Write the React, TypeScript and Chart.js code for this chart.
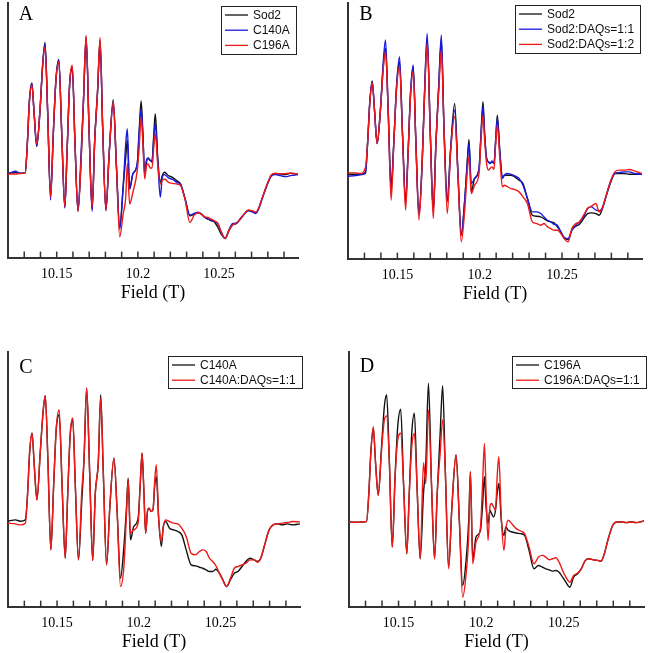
import React, { useEffect, useRef } from 'react';
import { Chart, registerables } from 'chart.js';

Chart.register(...registerables);

// Magnetic field (T)
const fieldT = [
  10.1200, 10.1245, 10.1276, 10.1306, 10.1320, 10.1332, 10.1347, 10.1361, 10.1377, 10.1397,
  10.1414, 10.1428, 10.1444, 10.1462, 10.1479, 10.1495, 10.1513, 10.1531, 10.1550, 10.1564,
  10.1580, 10.1596, 10.1612, 10.1631, 10.1651, 10.1665, 10.1681, 10.1700, 10.1718, 10.1734,
  10.1752, 10.1767, 10.1783, 10.1803, 10.1823, 10.1848, 10.1868, 10.1888, 10.1909, 10.1925,
  10.1935, 10.1949, 10.1969, 10.1996, 10.2008, 10.2020, 10.2030, 10.2042, 10.2053, 10.2063,
  10.2075, 10.2087, 10.2097, 10.2107, 10.2122, 10.2138, 10.2150, 10.2164, 10.2188, 10.2213,
  10.2239, 10.2263, 10.2290, 10.2320, 10.2347, 10.2371, 10.2391, 10.2412, 10.2432, 10.2452,
  10.2472, 10.2493, 10.2513, 10.2537, 10.2560, 10.2584, 10.2606, 10.2631, 10.2655, 10.2679,
  10.2706, 10.2726, 10.2746, 10.2767, 10.2797, 10.2821, 10.2848, 10.2878, 10.2909, 10.2939,
  10.2986,
];

// Panel A (a.u.)
const sod2A = [
  0, 2, 0, 2, 98, 218, 270, 178, 80, 188,
  328, 391, 188, -67, 118, 278, 340, 118, -102, 68,
  268, 313, 98, -112, 48, 218, 408, 118, -107, 98,
  248, 398, 138, -112, 58, 220, 18, -162, -42, 48,
  100, -47, -2, 28, 128, 216, 128, -7, 33, 46,
  38, 38, 108, 178, 48, -27, -7, 3, -7, -12,
  -22, -32, -75, -127, -122, -118, -122, -132, -137, -142,
  -146, -162, -182, -195, -172, -154, -150, -137, -122, -110,
  -114, -118, -102, -72, -32, -7, -2, -2, -4, 0,
  -2,
];
const c140aA = [
  -2, 6, 0, 2, 98, 218, 268, 178, 83, 188,
  328, 388, 188, -80, 118, 278, 338, 118, -104, 68,
  268, 318, 98, -112, 70, 218, 403, 118, -114, 98,
  248, 393, 138, -107, 58, 208, 18, -167, -42, 88,
  133, -47, -2, 28, 120, 193, 118, 3, 40, 45,
  40, 33, 98, 150, 38, -72, -12, -4, -14, -18,
  -27, -34, -75, -125, -120, -116, -122, -132, -137, -140,
  -144, -152, -175, -195, -170, -150, -150, -135, -122, -112,
  -116, -120, -104, -74, -34, -9, -4, -7, -10, -7,
  -4,
];
const c196aA = [
  -2, -2, -1, 2, 95, 215, 263, 178, 88, 188,
  325, 378, 188, -72, 118, 275, 333, 118, -100, 68,
  272, 323, 98, -114, 48, 222, 413, 118, -102, 98,
  252, 406, 138, -110, 58, 213, 18, -190, -122, -72,
  30, -92, -57, 8, 78, 168, 98, -17, 23, 28,
  16, 16, 73, 118, 28, -32, -22, -17, -27, -30,
  -32, -37, -78, -147, -125, -118, -122, -130, -132, -137,
  -142, -150, -175, -195, -172, -154, -148, -137, -122, -110,
  -112, -116, -102, -72, -32, -5, 0, -2, -1, 0,
  -2,
];

// Panel B (a.u.)
const sod2B = [
  0, 0, 0, 5, 102, 212, 279, 192, 92, 192,
  322, 377, 192, -33, 102, 262, 337, 122, -78, 52,
  242, 322, 102, -118, 42, 242, 407, 122, -108, 92,
  272, 402, 142, -78, 72, 212, 2, -178, -78, 42,
  104, -53, -13, 17, 122, 217, 122, 47, 37, 32,
  37, 32, 102, 177, 72, -12, -3, -3, -3, -8,
  -18, -28, -73, -123, -126, -128, -133, -140, -143, -146,
  -158, -173, -190, -196, -168, -156, -150, -133, -118, -116,
  -118, -123, -103, -68, -23, 2, 2, 2, 0, 0,
  0,
];
const sod2Daq11B = [
  -6, -4, -2, 2, 102, 215, 279, 192, 92, 195,
  335, 402, 195, -53, 102, 265, 352, 122, -88, 52,
  245, 327, 102, -123, 42, 245, 422, 122, -113, 92,
  275, 417, 142, -83, 72, 192, 2, -183, -78, 35,
  92, -28, -13, 17, 118, 202, 118, 47, 37, 32,
  40, 32, 100, 167, 68, -12, -3, 2, 0, -5,
  -13, -33, -73, -113, -113, -118, -128, -138, -143, -150,
  -153, -173, -190, -193, -168, -152, -143, -128, -103, -98,
  -108, -110, -100, -66, -20, 2, 5, 7, 7, 2,
  0,
];
const sod2Daq12B = [
  4, 4, 2, 20, 100, 210, 274, 192, 92, 190,
  315, 367, 188, -78, 100, 255, 322, 118, -108, 48,
  235, 307, 98, -138, 38, 232, 392, 118, -133, 88,
  255, 372, 135, -118, 62, 172, -5, -203, -108, 10,
  52, -58, -33, 2, 102, 177, 102, 32, 12, 17,
  22, 14, 90, 147, 50, -38, -33, -36, -43, -46,
  -53, -68, -88, -143, -148, -153, -148, -158, -163, -168,
  -168, -178, -193, -203, -163, -148, -143, -123, -103, -96,
  -88, -113, -100, -66, -18, 7, 12, 12, 14, 10,
  2,
];

// Panel C (a.u.)
const c140aC = [
  2, 6, 2, 6, 86, 206, 266, 166, 66, 206,
  326, 378, 186, -84, 106, 276, 321, 106, -109, 66,
  256, 306, 106, -114, 60, 186, 401, 140, -116, 86,
  176, 381, 146, -129, 46, 191, 26, -169, -74, 46,
  131, -54, -14, 11, 106, 206, 106, -34, 31, 41,
  31, 36, 106, 136, 6, -74, -14, 1, -19, -24,
  -29, -39, -84, -129, -132, -136, -139, -144, -149, -149,
  -142, -154, -172, -194, -174, -154, -149, -134, -119, -109,
  -114, -119, -109, -74, -24, -9, -6, -9, -6, -9,
  -6,
];
const c140aDaqC = [
  -4, -6, -9, -4, 86, 206, 266, 166, 66, 206,
  326, 378, 186, -84, 106, 280, 336, 106, -109, 66,
  260, 311, 106, -114, 90, 190, 401, 140, -116, 86,
  176, 371, 146, -129, 46, 191, 26, -194, -134, 26,
  126, -34, -24, -4, 106, 206, 106, -34, 31, 41,
  31, 36, 120, 171, 6, -59, -14, 6, 1, -4,
  -6, -19, -44, -94, -99, -89, -84, -89, -109, -119,
  -132, -154, -174, -194, -170, -139, -134, -129, -124, -114,
  -114, -121, -109, -74, -24, -9, -6, -4, -2, 1,
  0,
];

// Panel D (a.u.)
const c196aD = [
  1, 0, 1, 2, 86, 206, 281, 176, 81, 226,
  346, 381, 186, -74, 136, 286, 338, 106, -94, 76,
  266, 326, 106, -109, 86, 176, 416, 106, -109, 86,
  266, 408, 156, -134, 46, 201, 6, -189, -114, 6,
  151, -110, -44, -24, 46, 136, 46, -4, 36, 26,
  16, 36, 86, 116, 6, -39, -14, -24, -29, -32,
  -34, -39, -84, -139, -129, -134, -139, -142, -146, -144,
  -149, -164, -179, -194, -164, -154, -139, -114, -109, -112,
  -114, -116, -94, -54, -9, 1, 1, -1, 1, -1,
  4,
];
const c196aDaqD = [
  1, 0, 1, 2, 86, 206, 286, 176, 81, 215,
  306, 318, 186, -74, 136, 246, 266, 106, -94, 76,
  226, 266, 106, -109, 178, 116, 336, 106, -109, 86,
  206, 306, 156, -139, 46, 201, 6, -224, -154, -34,
  151, -124, -59, -14, 106, 236, 86, -54, 46, 56,
  46, 36, 136, 196, 16, -84, -19, 6, -6, -19,
  -26, -34, -74, -124, -104, -99, -104, -112, -109, -106,
  -119, -144, -164, -179, -159, -152, -139, -114, -109, -112,
  -114, -116, -94, -54, -9, 1, 1, -1, 1, -1,
  4,
];

// Axis
const xTickLabels = [10.15, 10.2, 10.25];
const fieldMin = 10.12;
const fieldMax = 10.2986;
const fieldStep = 0.01;

const BLACK = '#111111';
const BLUE = '#1a1ae0';
const RED = '#ee1a1a';
const SERIF = '"Liberation Serif", "Times New Roman", serif';
const SANS = '"Liberation Sans", Arial, sans-serif';

type Series = { label: string; values: number[]; color: string; order: number };
type PanelCfg = {
  letter: string;
  left: number; top: number; w: number; h: number;
  pad: { left: number; top: number; right: number; bottom: number };
  yMin: number; yMax: number;
  legendDx: number; legendDy: number; letterDy: number;
  series: Series[];
};

const panels: PanelCfg[] = [
  {
    letter: 'A', left: 0, top: 0, w: 324, h: 304,
    pad: { left: 4, top: 3, right: 26, bottom: 0 },
    yMin: -252, yMax: 509, legendDx: -2, legendDy: 3, letterDy: 12,
    series: [
      { label: 'Sod2', values: sod2A, color: BLACK, order: 2 },
      { label: 'C140A', values: c140aA, color: BLUE, order: 1 },
      { label: 'C196A', values: c196aA, color: RED, order: 0 },
    ],
  },
  {
    letter: 'B', left: 324, top: 0, w: 324, h: 305,
    pad: { left: 24, top: 3, right: 6, bottom: 0 },
    yMin: -253, yMax: 513, legendDx: -2, legendDy: 2, letterDy: 12,
    series: [
      { label: 'Sod2', values: sod2B, color: BLACK, order: 2 },
      { label: 'Sod2:DAQs=1:1', values: sod2Daq11B, color: BLUE, order: 1 },
      { label: 'Sod2:DAQs=1:2', values: sod2Daq12B, color: RED, order: 0 },
    ],
  },
  {
    letter: 'C', left: 0, top: 330, w: 324, h: 323,
    pad: { left: 5, top: 22, right: 24, bottom: 0 },
    yMin: -254, yMax: 509, legendDx: 2, legendDy: 4, letterDy: 16,
    series: [
      { label: 'C140A', values: c140aC, color: BLACK, order: 1 },
      { label: 'C140A:DAQs=1:1', values: c140aDaqC, color: RED, order: 0 },
    ],
  },
  {
    letter: 'D', left: 324, top: 330, w: 324, h: 323,
    pad: { left: 25, top: 22, right: 4, bottom: 0 },
    yMin: -252, yMax: 509, legendDx: 2, legendDy: 4, letterDy: 15,
    series: [
      { label: 'C196A', values: c196aD, color: BLACK, order: 1 },
      { label: 'C196A:DAQs=1:1', values: c196aDaqD, color: RED, order: 0 },
    ],
  },
];

const inwardTicks = {
  id: 'inwardTicks',
  afterDraw(chart: any) {
    const xs = chart.scales.x;
    const ca = chart.chartArea;
    const ctx = chart.ctx;
    ctx.save();
    ctx.strokeStyle = '#333';
    ctx.lineWidth = 1.5;
    xs.ticks.forEach((t: any) => {
      const px = xs.getPixelForValue(t.value);
      if (px < ca.left + 3 || px > ca.right - 1) return;
      ctx.beginPath();
      ctx.moveTo(px, ca.bottom);
      ctx.lineTo(px, ca.bottom - 6);
      ctx.stroke();
    });
    ctx.restore();
  },
};

const boxLegend = {
  id: 'boxLegend',
  afterDraw(chart: any, _args: any, o: any) {
    const ctx = chart.ctx;
    const ca = chart.chartArea;
    const items = chart.data.datasets;
    ctx.save();
    ctx.font = '12px ' + SANS;
    const tw = Math.max(...items.map((d: any) => ctx.measureText(d.label).width));
    const rowH = 15.2;
    const w = Math.round(32 + tw + 6);
    const h = Math.round(items.length * rowH + 2);
    const x0 = Math.round(ca.right + o.dx - w);
    const y0 = Math.round(ca.top + o.dy);
    ctx.fillStyle = '#fff';
    ctx.fillRect(x0, y0, w, h);
    ctx.strokeStyle = '#222';
    ctx.lineWidth = 1;
    ctx.strokeRect(x0 + 0.5, y0 + 0.5, w, h);
    items.forEach((d: any, i: number) => {
      const cy = y0 + 9 + i * rowH;
      ctx.strokeStyle = d.borderColor;
      ctx.lineWidth = 1.3;
      ctx.beginPath();
      ctx.moveTo(x0 + 4, cy);
      ctx.lineTo(x0 + 27, cy);
      ctx.stroke();
      ctx.fillStyle = '#111';
      ctx.textBaseline = 'middle';
      ctx.textAlign = 'left';
      ctx.fillText(d.label, x0 + 32, cy + 0.5);
    });
    ctx.restore();
  },
};

const panelLetter = {
  id: 'panelLetter',
  afterDraw(chart: any, _args: any, o: any) {
    const ctx = chart.ctx;
    const ca = chart.chartArea;
    ctx.save();
    ctx.font = '20px ' + SERIF;
    ctx.fillStyle = '#000';
    ctx.textAlign = 'center';
    ctx.textBaseline = 'middle';
    ctx.fillText(o.text, ca.left + 18, ca.top + o.dy);
    ctx.restore();
  },
};

function Panel({ cfg }: { cfg: PanelCfg }) {
  const ref = useRef<HTMLCanvasElement>(null);
  useEffect(() => {
    if (!ref.current) return;
    const chart = new Chart(ref.current, {
      type: 'line',
      data: {
        datasets: cfg.series.map((s) => ({
          label: s.label,
          data: fieldT.map((x, i) => ({ x, y: s.values[i] })),
          borderColor: s.color,
          backgroundColor: s.color,
          borderWidth: 1.4,
          pointRadius: 0,
          fill: false,
          order: s.order,
          cubicInterpolationMode: 'monotone' as const,
        })),
      },
      options: {
        responsive: false,
        maintainAspectRatio: false,
        animation: false,
        events: [],
        layout: { padding: cfg.pad },
        scales: {
          x: {
            type: 'linear',
            min: fieldMin,
            max: fieldMax,
            grid: { display: false, drawTicks: false },
            border: { display: true, color: '#333', width: 2 },
            ticks: {
              stepSize: fieldStep,
              autoSkip: false,
              includeBounds: false,
              maxRotation: 0,
              padding: 8,
              color: '#000',
              font: { family: SERIF, size: 14 },
              callback: (v: any) => {
                const hit = xTickLabels.find((l) => Math.abs(l - Number(v)) < 1e-6);
                return hit === undefined ? '' : String(hit);
              },
            },
            title: {
              display: true,
              text: 'Field (T)',
              color: '#000',
              font: { family: SERIF, size: 18 },
              padding: { top: -8, bottom: 0 },
            },
          },
          y: {
            type: 'linear',
            min: cfg.yMin,
            max: cfg.yMax,
            grid: { display: false, drawTicks: false },
            border: { display: true, color: '#333', width: 2 },
            ticks: { display: false },
          },
        },
        plugins: {
          legend: { display: false },
          tooltip: { enabled: false },
          boxLegend: { dx: cfg.legendDx, dy: cfg.legendDy },
          panelLetter: { text: cfg.letter, dy: cfg.letterDy },
        } as any,
      },
      plugins: [inwardTicks, boxLegend, panelLetter],
    } as any);
    return () => chart.destroy();
  }, [cfg]);
  return (
    <canvas
      ref={ref}
      width={cfg.w}
      height={cfg.h}
      style={{ position: 'absolute', left: cfg.left, top: cfg.top, width: cfg.w, height: cfg.h, display: 'block' }}
    />
  );
}

export default function App() {
  return (
    <div style={{ position: 'absolute', left: 0, top: 0, width: 648, height: 653, background: '#fff', overflow: 'hidden' }}>
      {panels.map((p) => (
        <Panel key={p.letter} cfg={p} />
      ))}
    </div>
  );
}
